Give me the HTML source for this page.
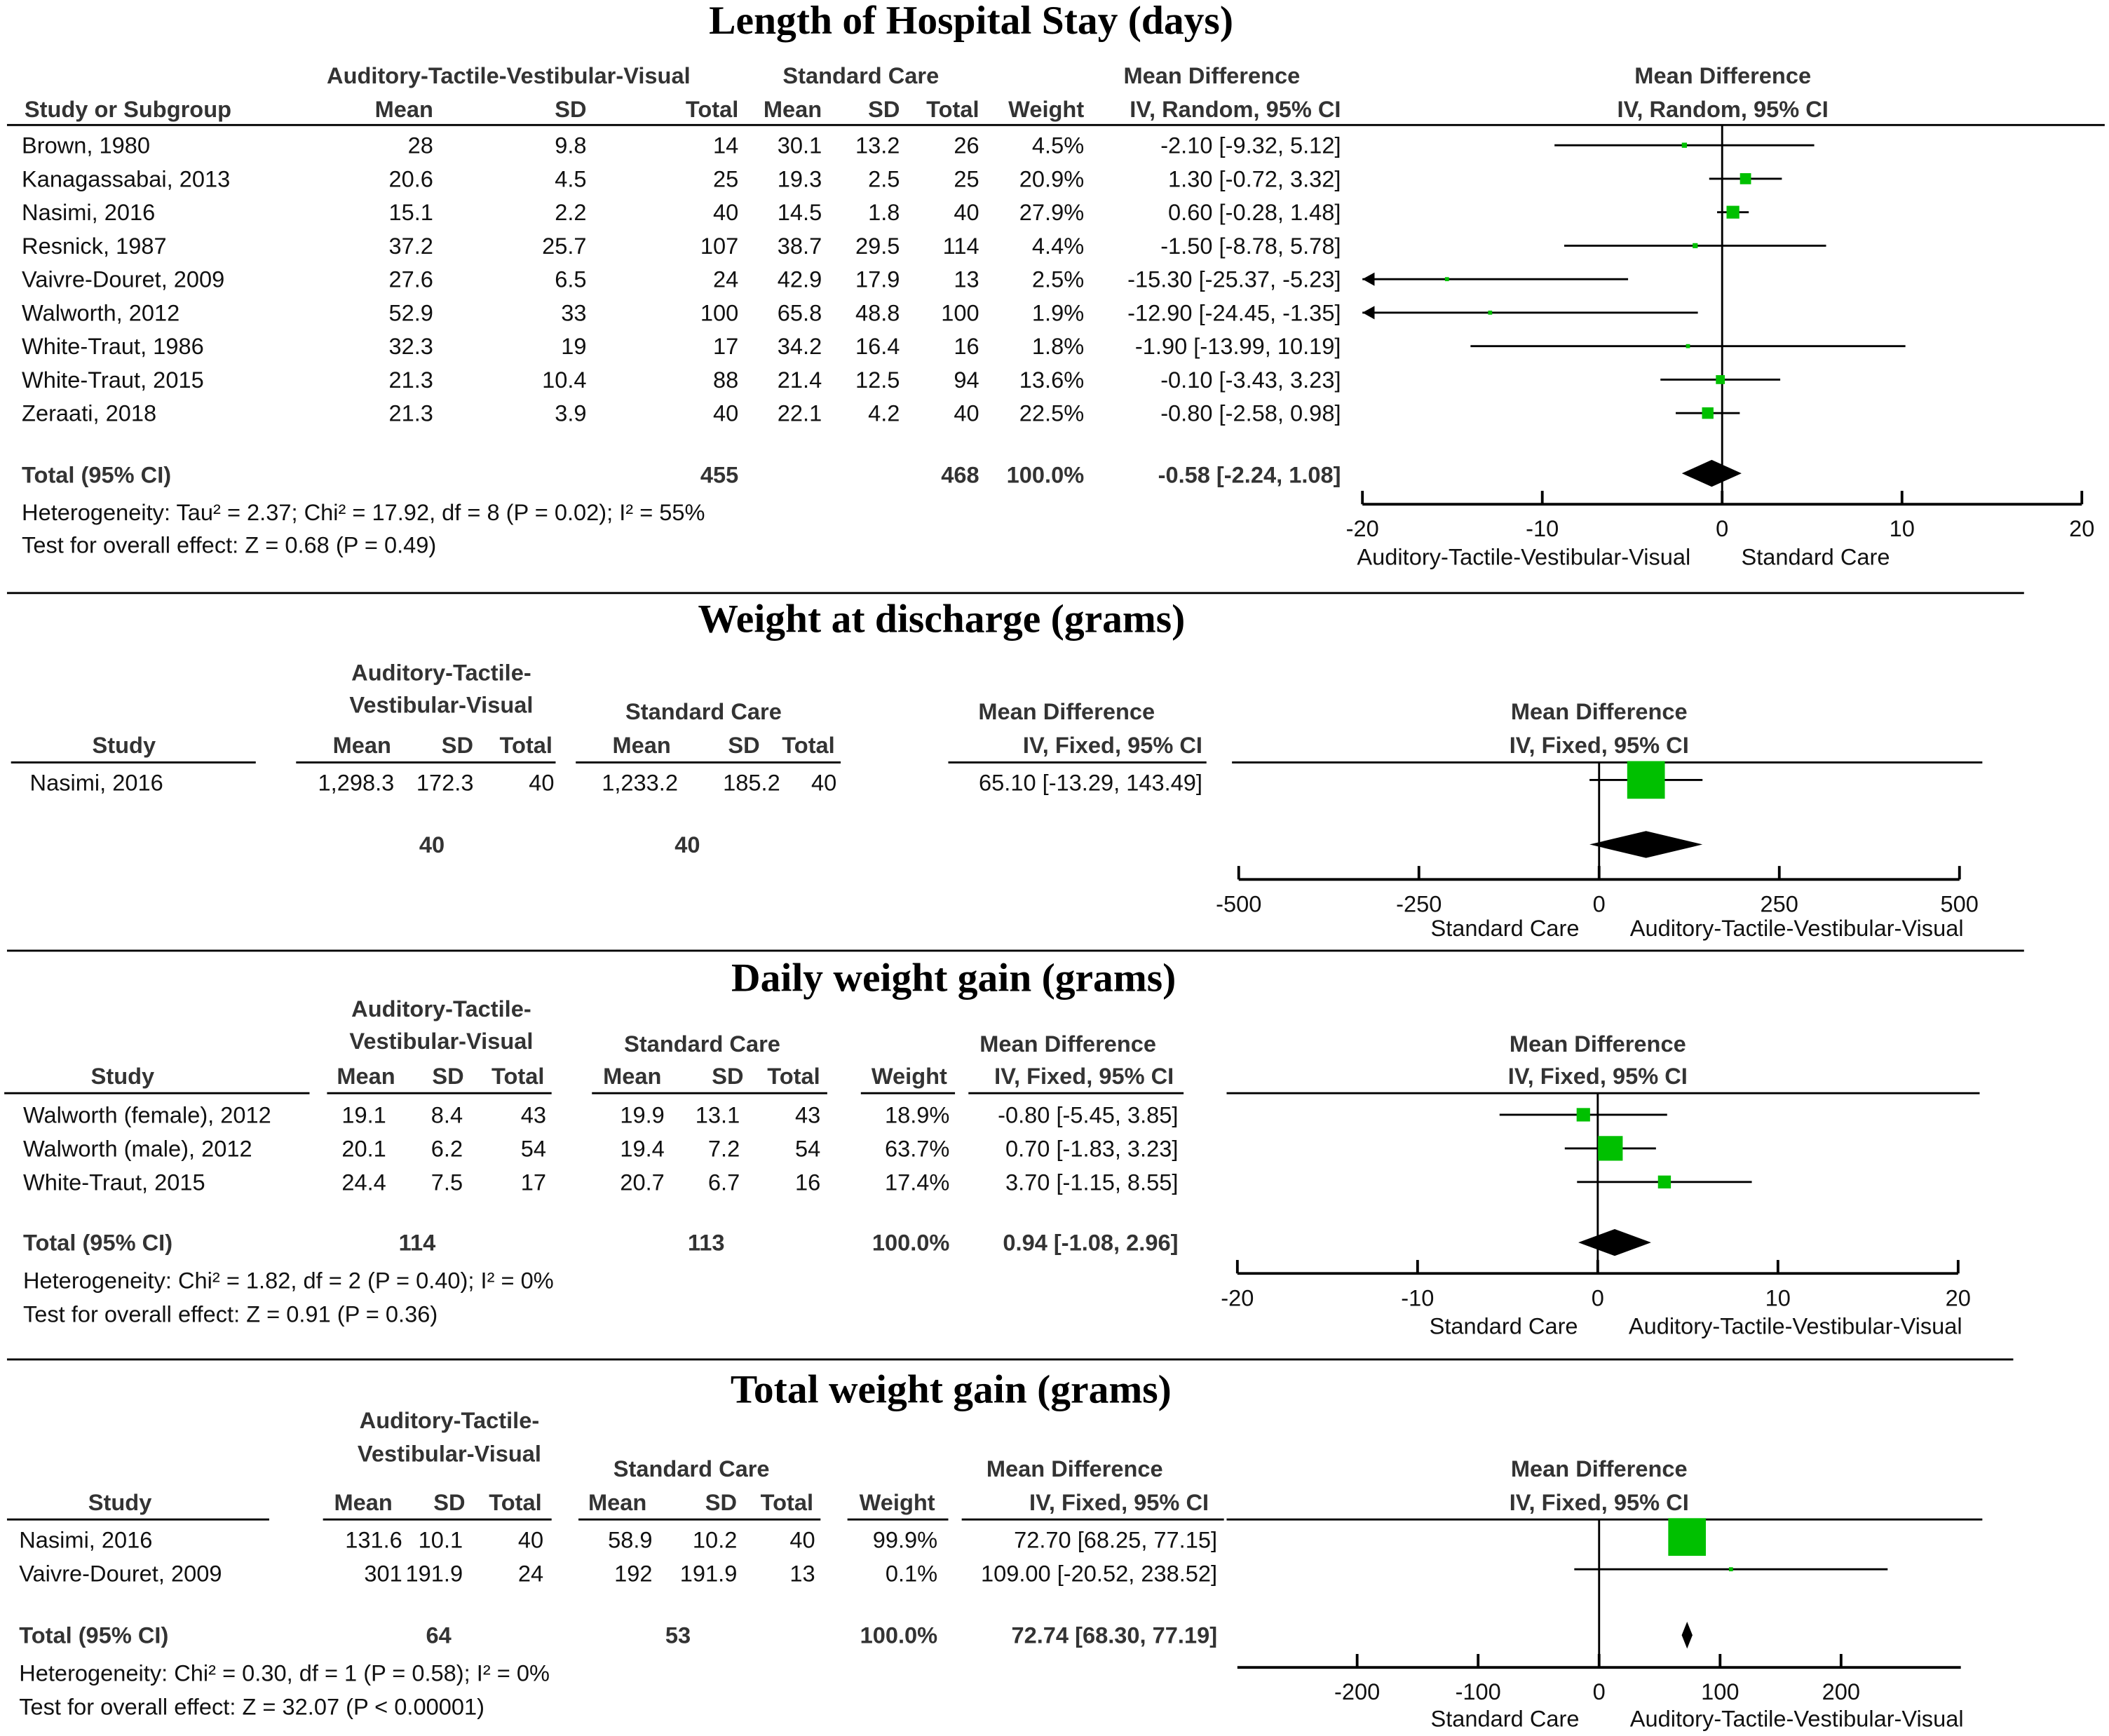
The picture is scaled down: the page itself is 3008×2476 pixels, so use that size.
<!DOCTYPE html>
<html><head><meta charset="utf-8"><style>
html,body{margin:0;padding:0;background:#fff;}
svg{display:block;}
text{font-family:"Liberation Sans",sans-serif;font-size:17px;fill:#111;}
.b{font-weight:bold;fill:#333;}
.t{font-family:"Liberation Serif",serif;font-weight:bold;font-size:30px;fill:#000;}
</style></head><body>
<svg id="c" width="3008" height="2476" viewBox="0 0 1568 1291" xmlns="http://www.w3.org/2000/svg"></svg>
<script>
// ---- Section 1: Length of hospital stay ----
const s1Studies=["Brown, 1980","Kanagassabai, 2013","Nasimi, 2016","Resnick, 1987","Vaivre-Douret, 2009","Walworth, 2012","White-Traut, 1986","White-Traut, 2015","Zeraati, 2018"];
const s1M1=["28","20.6","15.1","37.2","27.6","52.9","32.3","21.3","21.3"];
const s1SD1=["9.8","4.5","2.2","25.7","6.5","33","19","10.4","3.9"];
const s1N1=["14","25","40","107","24","100","17","88","40"];
const s1M2=["30.1","19.3","14.5","38.7","42.9","65.8","34.2","21.4","22.1"];
const s1SD2=["13.2","2.5","1.8","29.5","17.9","48.8","16.4","12.5","4.2"];
const s1N2=["26","25","40","114","13","100","16","94","40"];
const s1W=[4.5,20.9,27.9,4.4,2.5,1.9,1.8,13.6,22.5];
const s1MD=[-2.10,1.30,0.60,-1.50,-15.30,-12.90,-1.90,-0.10,-0.80];
const s1Lo=[-9.32,-0.72,-0.28,-8.78,-25.37,-24.45,-13.99,-3.43,-2.58];
const s1Hi=[5.12,3.32,1.48,5.78,-5.23,-1.35,10.19,3.23,0.98];
const s1Total=[-0.58,-2.24,1.08];
const s1Ticks=[-20,-10,0,10,20];
// ---- Section 2: Weight at discharge ----
const s2Studies=["Nasimi, 2016"];
const s2MD=[65.10],s2Lo=[-13.29],s2Hi=[143.49],s2W=[100];
const s2Total=[65.10,-13.29,143.49];
const s2Ticks=[-500,-250,0,250,500];
// ---- Section 3: Daily weight gain ----
const s3Studies=["Walworth (female), 2012","Walworth (male), 2012","White-Traut, 2015"];
const s3M1=["19.1","20.1","24.4"],s3SD1=["8.4","6.2","7.5"],s3N1=["43","54","17"];
const s3M2=["19.9","19.4","20.7"],s3SD2=["13.1","7.2","6.7"],s3N2=["43","54","16"];
const s3W=[18.9,63.7,17.4];
const s3MD=[-0.80,0.70,3.70],s3Lo=[-5.45,-1.83,-1.15],s3Hi=[3.85,3.23,8.55];
const s3Total=[0.94,-1.08,2.96];
const s3Ticks=[-20,-10,0,10,20];
// ---- Section 4: Total weight gain ----
const s4Studies=["Nasimi, 2016","Vaivre-Douret, 2009"];
const s4M1=["131.6","301"],s4SD1=["10.1","191.9"],s4N1=["40","24"];
const s4M2=["58.9","192"],s4SD2=["10.2","191.9"],s4N2=["40","13"];
const s4W=[99.9,0.1];
const s4MD=[72.70,109.00],s4Lo=[68.25,-20.52],s4Hi=[77.15,238.52];
const s4Total=[72.74,68.30,77.19];
const s4Ticks=[-200,-100,0,100,200];

const svg=document.getElementById('c');
const NS="http://www.w3.org/2000/svg";
function el(tag,attrs,name){const e=document.createElementNS(NS,tag);for(const k in attrs)e.setAttribute(k,attrs[k]);


svg.appendChild(e);return e;}
function tx(x,y,s,name,anchor,cls){const e=el('text',{x:x,y:y+6,'text-anchor':anchor||'start'},name);if(cls)e.setAttribute('class',cls);e.textContent=s;return e;}
function ln(x1,y1,x2,y2,name,w){return el('line',{x1:x1,y1:y1,x2:x2,y2:y2,stroke:'#000','stroke-width':w||1.5},name);}
function f2(v){return v.toFixed(2);}
function ci(a,b,c){return f2(a)+" ["+f2(b)+", "+f2(c)+"]";}

function forest(o){
  const sx=v=>o.x0+(v-o.min)/(o.max-o.min)*(o.x1-o.x0);
  ln(sx(0),o.top,sx(0),o.axisY,o.p+'-zero-line',1.5);
  ln(o.x0,o.axisY,o.x1,o.axisY,o.p+'-x-axis',2);
  o.ticks.forEach(t=>{ln(sx(t),o.axisY,sx(t),o.axisY-10,o.p+'-tick',2);
    tx(sx(t),o.axisY+18,String(t),o.p+'-tick-label','middle');});
  o.md.forEach((m,i)=>{const y=o.rows[i];
    const lo=Math.max(o.lo[i],o.min),hi=Math.min(o.hi[i],o.max);
    ln(sx(lo),y,sx(hi),y,o.p+'-ci-line',1.5);
    if(o.lo[i]<o.min) el('polygon',{points:`${sx(o.min)},${y} ${sx(o.min)+9},${y-5} ${sx(o.min)+9},${y+5}`,fill:'#000'},o.p+'-ci-arrow');
    const s=Math.max(3,Math.sqrt(o.w[i]/100)*o.smax);
    el('rect',{x:sx(m)-s/2,y:y-s/2,width:s,height:s,fill:'#00c000'},o.p+'-study-marker');});
  const [m,l,h]=o.total;const y=o.totalY;
  el('polygon',{points:`${sx(l)},${y} ${sx(m)},${y-10} ${sx(h)},${y} ${sx(m)},${y+10}`,fill:'#000'},o.p+'-pooled-diamond');
}

// ---------- Section 1 ----------
tx(722,19,"Length of Hospital Stay (days)",'title-length-of-stay','middle','t');
tx(378,56,"Auditory-Tactile-Vestibular-Visual",'s1-header-intervention','middle','b');
tx(640,56,"Standard Care",'s1-header-control','middle','b');
tx(901,56,"Mean Difference",'s1-header-md','middle','b');
tx(1281,56,"Mean Difference",'s1-header-md-plot','middle','b');
tx(18,81,"Study or Subgroup",'s1-header-study','start','b');
[[322,"Mean"],[436,"SD"],[549,"Total"],[611,"Mean"],[669,"SD"],[728,"Total"],[806,"Weight"],[997,"IV, Random, 95% CI"]].forEach(h=>tx(h[0],81,h[1],'s1-col-header','end','b'));
tx(1281,81,"IV, Random, 95% CI",'s1-header-method-plot','middle','b');
ln(5,93,1565,93,'s1-header-rule',1.5);
const r1=s1Studies.map((_,i)=>108+i*24.9);
s1Studies.forEach((s,i)=>{const y=r1[i];
  tx(16,y,s,'s1-study-name');
  tx(322,y,s1M1[i],'s1-mean-int','end');tx(436,y,s1SD1[i],'s1-sd-int','end');tx(549,y,s1N1[i],'s1-total-int','end');
  tx(611,y,s1M2[i],'s1-mean-ctl','end');tx(669,y,s1SD2[i],'s1-sd-ctl','end');tx(728,y,s1N2[i],'s1-total-ctl','end');
  tx(806,y,s1W[i].toFixed(1)+"%",'s1-weight','end');tx(997,y,ci(s1MD[i],s1Lo[i],s1Hi[i]),'s1-ci-text','end');});
tx(16,353,"Total (95% CI)",'s1-total-label','start','b');
tx(549,353,"455",'s1-total-n-int','end','b');tx(728,353,"468",'s1-total-n-ctl','end','b');
tx(806,353,"100.0%",'s1-total-weight','end','b');tx(997,353,ci(s1Total[0],s1Total[1],s1Total[2]),'s1-total-ci','end','b');
tx(16,381,"Heterogeneity: Tau² = 2.37; Chi² = 17.92, df = 8 (P = 0.02); I² = 55%",'s1-heterogeneity');
tx(16,405,"Test for overall effect: Z = 0.68 (P = 0.49)",'s1-overall-effect');
forest({p:'s1',x0:1013,x1:1548,min:-20,max:20,top:93,axisY:375,ticks:s1Ticks,md:s1MD,lo:s1Lo,hi:s1Hi,w:s1W,rows:r1,smax:18,total:s1Total,totalY:352});
tx(1133,414,"Auditory-Tactile-Vestibular-Visual",'s1-favours-left','middle');
tx(1350,414,"Standard Care",'s1-favours-right','middle');
ln(5,441,1505,441,'separator-1',1.5);

// ---------- Section 2 ----------
tx(700,464,"Weight at discharge (grams)",'title-weight-discharge','middle','t');
tx(328,500,"Auditory-Tactile-",'s2-header-int-1','middle','b');tx(328,524,"Vestibular-Visual",'s2-header-int-2','middle','b');
tx(523,529,"Standard Care",'s2-header-control','middle','b');
tx(793,529,"Mean Difference",'s2-header-md','middle','b');tx(1189,529,"Mean Difference",'s2-header-md-plot','middle','b');
tx(92,554,"Study",'s2-header-study','middle','b');
[[269,"Mean"],[340,"SD"],[391,"Total"],[477,"Mean"],[553,"SD"],[601,"Total"]].forEach(h=>tx(h[0],554,h[1],'s2-col-header','middle','b'));
tx(894,554,"IV, Fixed, 95% CI",'s2-header-method','end','b');tx(1189,554,"IV, Fixed, 95% CI",'s2-header-method-plot','middle','b');
[[8,190],[220,413],[428,625],[705,897],[916,1474]].forEach(s=>ln(s[0],567,s[1],567,'s2-header-rule',1.5));
tx(22,582,"Nasimi, 2016",'s2-study-name');
tx(293,582,"1,298.3",'s2-mean-int','end');tx(352,582,"172.3",'s2-sd-int','end');tx(412,582,"40",'s2-total-int','end');
tx(504,582,"1,233.2",'s2-mean-ctl','end');tx(580,582,"185.2",'s2-sd-ctl','end');tx(622,582,"40",'s2-total-ctl','end');
tx(894,582,ci(s2MD[0],s2Lo[0],s2Hi[0]),'s2-ci-text','end');
tx(321,628,"40",'s2-total-n-int','middle','b');tx(511,628,"40",'s2-total-n-ctl','middle','b');
forest({p:'s2',x0:921,x1:1457,min:-500,max:500,top:567,axisY:654,ticks:s2Ticks,md:s2MD,lo:s2Lo,hi:s2Hi,w:s2W,rows:[580],smax:28,total:s2Total,totalY:628});
tx(1119,690,"Standard Care",'s2-favours-left','middle');
tx(1336,690,"Auditory-Tactile-Vestibular-Visual",'s2-favours-right','middle');
ln(5,707,1505,707,'separator-2',1.5);

// ---------- Section 3 ----------
tx(709,731,"Daily weight gain (grams)",'title-daily-gain','middle','t');
tx(328,750,"Auditory-Tactile-",'s3-header-int-1','middle','b');tx(328,774,"Vestibular-Visual",'s3-header-int-2','middle','b');
tx(522,776,"Standard Care",'s3-header-control','middle','b');
tx(794,776,"Mean Difference",'s3-header-md','middle','b');tx(1188,776,"Mean Difference",'s3-header-md-plot','middle','b');
[[91,"Study"],[272,"Mean"],[333,"SD"],[385,"Total"],[470,"Mean"],[541,"SD"],[590,"Total"],[676,"Weight"],[806,"IV, Fixed, 95% CI"],[1188,"IV, Fixed, 95% CI"]].forEach(h=>tx(h[0],800,h[1],'s3-col-header','middle','b'));
[[3,230],[243,410],[440,615],[640,710],[720,880],[912,1472]].forEach(s=>ln(s[0],813,s[1],813,'s3-header-rule',1.5));
const r3=[829,854,879];
s3Studies.forEach((s,i)=>{const y=r3[i];
  tx(17,y,s,'s3-study-name');
  tx(287,y,s3M1[i],'s3-mean-int','end');tx(344,y,s3SD1[i],'s3-sd-int','end');tx(406,y,s3N1[i],'s3-total-int','end');
  tx(494,y,s3M2[i],'s3-mean-ctl','end');tx(550,y,s3SD2[i],'s3-sd-ctl','end');tx(610,y,s3N2[i],'s3-total-ctl','end');
  tx(706,y,s3W[i].toFixed(1)+"%",'s3-weight','end');tx(876,y,ci(s3MD[i],s3Lo[i],s3Hi[i]),'s3-ci-text','end');});
tx(17,924,"Total (95% CI)",'s3-total-label','start','b');
tx(310,924,"114",'s3-total-n-int','middle','b');tx(525,924,"113",'s3-total-n-ctl','middle','b');
tx(706,924,"100.0%",'s3-total-weight','end','b');tx(876,924,ci(s3Total[0],s3Total[1],s3Total[2]),'s3-total-ci','end','b');
tx(17,952,"Heterogeneity: Chi² = 1.82, df = 2 (P = 0.40); I² = 0%",'s3-heterogeneity');
tx(17,977,"Test for overall effect: Z = 0.91 (P = 0.36)",'s3-overall-effect');
forest({p:'s3',x0:920,x1:1456,min:-20,max:20,top:813,axisY:947,ticks:s3Ticks,md:s3MD,lo:s3Lo,hi:s3Hi,w:s3W,rows:r3,smax:23,total:s3Total,totalY:924});
tx(1118,986,"Standard Care",'s3-favours-left','middle');
tx(1335,986,"Auditory-Tactile-Vestibular-Visual",'s3-favours-right','middle');
ln(5,1011,1497,1011,'separator-3',1.5);

// ---------- Section 4 ----------
tx(707,1037,"Total weight gain (grams)",'title-total-gain','middle','t');
tx(334,1056,"Auditory-Tactile-",'s4-header-int-1','middle','b');tx(334,1081,"Vestibular-Visual",'s4-header-int-2','middle','b');
tx(514,1092,"Standard Care",'s4-header-control','middle','b');
tx(799,1092,"Mean Difference",'s4-header-md','middle','b');tx(1189,1092,"Mean Difference",'s4-header-md-plot','middle','b');
[[89,"Study"],[270,"Mean"],[334,"SD"],[383,"Total"],[459,"Mean"],[536,"SD"],[585,"Total"],[667,"Weight"],[832,"IV, Fixed, 95% CI"],[1189,"IV, Fixed, 95% CI"]].forEach(h=>tx(h[0],1117,h[1],'s4-col-header','middle','b'));
[[5,200],[240,410],[430,610],[630,705],[715,910],[912,1474]].forEach(s=>ln(s[0],1130,s[1],1130,'s4-header-rule',1.5));
const r4=[1145,1170];
s4Studies.forEach((s,i)=>{const y=r4[i];
  tx(14,y,s,'s4-study-name');
  tx(299,y,s4M1[i],'s4-mean-int','end');tx(344,y,s4SD1[i],'s4-sd-int','end');tx(404,y,s4N1[i],'s4-total-int','end');
  tx(485,y,s4M2[i],'s4-mean-ctl','end');tx(548,y,s4SD2[i],'s4-sd-ctl','end');tx(606,y,s4N2[i],'s4-total-ctl','end');
  tx(697,y,s4W[i].toFixed(1)+"%",'s4-weight','end');tx(905,y,ci(s4MD[i],s4Lo[i],s4Hi[i]),'s4-ci-text','end');});
tx(14,1216,"Total (95% CI)",'s4-total-label','start','b');
tx(326,1216,"64",'s4-total-n-int','middle','b');tx(504,1216,"53",'s4-total-n-ctl','middle','b');
tx(697,1216,"100.0%",'s4-total-weight','end','b');tx(905,1216,ci(s4Total[0],s4Total[1],s4Total[2]),'s4-total-ci','end','b');
tx(14,1244,"Heterogeneity: Chi² = 0.30, df = 1 (P = 0.58); I² = 0%",'s4-heterogeneity');
tx(14,1269,"Test for overall effect: Z = 32.07 (P < 0.00001)",'s4-overall-effect');
forest({p:'s4',x0:920,x1:1458,min:-299,max:299,top:1130,axisY:1240,ticks:s4Ticks,md:s4MD,lo:s4Lo,hi:s4Hi,w:s4W,rows:[1143,1167],smax:28,total:s4Total,totalY:1216});
tx(1119,1278,"Standard Care",'s4-favours-left','middle');
tx(1336,1278,"Auditory-Tactile-Vestibular-Visual",'s4-favours-right','middle');
</script>
</body></html>
